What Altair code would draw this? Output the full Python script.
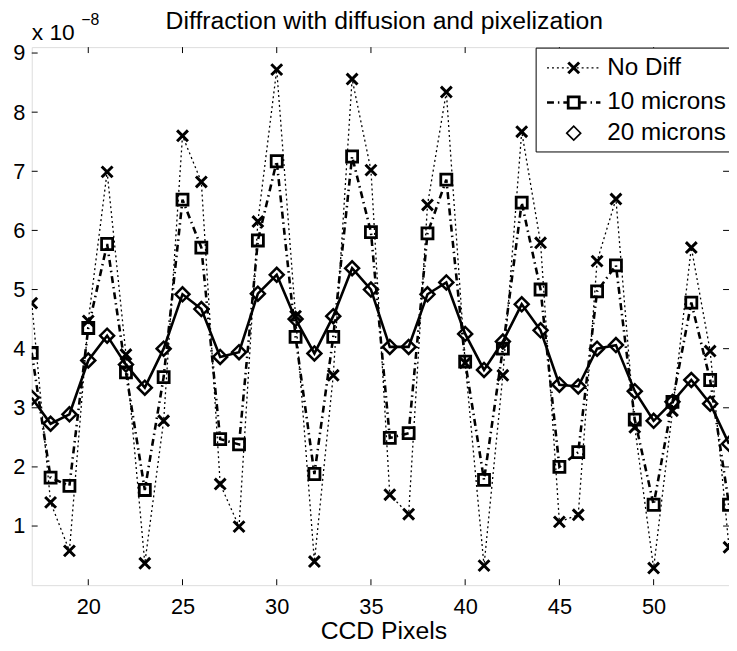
import altair as alt
import pandas as pd

# ---------------- data (values in units of 1e-8) ----------------
pixels = list(range(17, 55))
no_diff = [4.77, 1.40, 0.58, 4.47, 6.99, 3.90, 0.37, 2.78, 7.60, 6.82,
           1.71, 0.99, 6.15, 8.72, 4.55, 0.40, 3.55, 8.56, 7.02, 1.53,
           1.20, 6.43, 8.34, 3.76, 0.33, 3.55, 7.67, 5.79, 1.07, 1.19,
           5.48, 6.53, 2.67, 0.29, 2.95, 5.71, 3.96, 0.64]
ten_microns = [3.93, 1.82, 1.68, 4.35, 5.77, 3.60, 1.61, 3.52, 6.52, 5.71,
               2.47, 2.38, 5.83, 7.17, 4.20, 1.88, 4.20, 7.25, 5.97, 2.49,
               2.57, 5.95, 6.86, 3.78, 1.78, 4.00, 6.47, 5.00, 2.00, 2.25,
               4.97, 5.41, 2.80, 1.36, 3.10, 4.78, 3.47, 1.36]
twenty_microns = [3.17, 2.73, 2.89, 3.80, 4.22, 3.73, 3.34, 4.00, 4.92, 4.67,
                  3.86, 3.94, 4.93, 5.25, 4.50, 3.92, 4.55, 5.36, 5.00, 4.03,
                  4.03, 4.92, 5.12, 4.25, 3.64, 4.12, 4.75, 4.31, 3.39, 3.36,
                  4.00, 4.06, 3.28, 2.78, 3.10, 3.47, 3.07, 2.39]
series_labels = ["No Diff", "10 microns", "20 microns"]
x_ticks = [20, 25, 30, 35, 40, 45, 50]
y_ticks = [1, 2, 3, 4, 5, 6, 7, 8, 9]
title_text = "Diffraction with diffusion and pixelization"
x_title = "CCD Pixels"
multiplier = ["x 10", "\u22128"]

W, H = 705, 544
FONT = "Liberation Sans"
X_PATH = "M-1,-1L1,1M-1,1L1,-1"

df = pd.DataFrame({
    "pixel": pixels * 3,
    "value": no_diff + ten_microns + twenty_microns,
    "series": [series_labels[0]] * len(pixels)
              + [series_labels[1]] * len(pixels)
              + [series_labels[2]] * len(pixels),
})

xs = alt.Scale(domain=[17, 54], nice=False, zero=False)
ys = alt.Scale(domain=[0, 9.1], nice=False, zero=False)

X = alt.X("pixel:Q", scale=xs,
          axis=alt.Axis(values=x_ticks, title=x_title, ticks=False, tickSize=0,
                        domain=False, grid=False, labelFontSize=22, format="d",
                        labelPadding=12, labelFont=FONT, labelColor="black",
                        titleFont=FONT, titleFontSize=25, titleFontWeight="normal",
                        titleColor="black", titleBaseline="alphabetic",
                        titleY=54, titleX=W / 2 + 3))
Y = alt.Y("value:Q", scale=ys,
          axis=alt.Axis(values=y_ticks, title=None, ticks=False, tickSize=0,
                        domain=False, grid=False, labelFontSize=22, format="d",
                        labelPadding=7, labelFont=FONT, labelColor="black"))


def sub(name):
    return alt.Chart(df).transform_filter(alt.datum.series == name)


line_nd = sub(series_labels[0]).mark_line(
    color="black", strokeWidth=1.3, strokeDash=[2, 3], clip=True
).encode(x=X, y=Y)
pts_nd = sub(series_labels[0]).mark_point(
    shape=X_PATH, size=120, strokeWidth=3, color="black", filled=False,
    opacity=1, clip=True
).encode(x=X, y=Y)

line_10 = sub(series_labels[1]).mark_line(
    color="black", strokeWidth=2.6, strokeDash=[7, 4, 1.5, 4], clip=True
).encode(x=X, y=Y)
pts_10 = sub(series_labels[1]).mark_point(
    shape="square", size=125, strokeWidth=2.8, color="black", filled=False,
    opacity=1, clip=True
).encode(x=X, y=Y)

line_20 = sub(series_labels[2]).mark_line(
    color="black", strokeWidth=2.6, clip=True
).encode(x=X, y=Y)
pts_20 = sub(series_labels[2]).mark_point(
    shape="diamond", size=200, strokeWidth=2.5, color="black", filled=False,
    opacity=1, clip=True
).encode(x=X, y=Y)

# inward ticks (MATLAB style), all four sides
xt = pd.DataFrame({"t": x_ticks})
yt = pd.DataFrame({"t": y_ticks})
TL = 6
tick_layers = [
    alt.Chart(xt).mark_rule(color="black", strokeWidth=1).encode(
        x=alt.X("t:Q", scale=xs), y=alt.value(H), y2=alt.value(H - TL)),
    alt.Chart(xt).mark_rule(color="black", strokeWidth=1).encode(
        x=alt.X("t:Q", scale=xs), y=alt.value(0), y2=alt.value(TL)),
    alt.Chart(yt).mark_rule(color="black", strokeWidth=1).encode(
        y=alt.Y("t:Q", scale=ys), x=alt.value(0), x2=alt.value(TL)),
    alt.Chart(yt).mark_rule(color="black", strokeWidth=1).encode(
        y=alt.Y("t:Q", scale=ys), x=alt.value(W), x2=alt.value(W - TL)),
]

# legend box
one = pd.DataFrame({"k": [0]})
LX0, LX1, LY0, LY1 = 510, W + 2, 1, 106
legend_box = alt.Chart(one).mark_rect(
    fill="white", stroke="black", strokeWidth=1
).encode(x=alt.value(LX0), x2=alt.value(LX1), y=alt.value(LY0), y2=alt.value(LY1))

rows_y = [21, 56, 87]
SX0, SX1, SXM, TX = 521, 575, 548, 582
legend_layers = [legend_box]
# row 1: dotted line + x
legend_layers.append(alt.Chart(one).mark_rule(
    color="black", strokeWidth=1.3, strokeDash=[2, 3]
).encode(x=alt.value(SX0), x2=alt.value(SX1), y=alt.value(rows_y[0])))
legend_layers.append(alt.Chart(one).mark_point(
    shape=X_PATH, size=120, strokeWidth=3, color="black", filled=False, opacity=1
).encode(x=alt.value(SXM), y=alt.value(rows_y[0])))
# row 2: dash-dot + square
legend_layers.append(alt.Chart(one).mark_rule(
    color="black", strokeWidth=2.6, strokeDash=[7, 4, 1.5, 4]
).encode(x=alt.value(SX0), x2=alt.value(SX1), y=alt.value(rows_y[1])))
legend_layers.append(alt.Chart(one).mark_point(
    shape="square", size=125, strokeWidth=2.8, color="black", fill="white",
    filled=False, opacity=1
).encode(x=alt.value(SXM), y=alt.value(rows_y[1])))
# row 3: diamond only
legend_layers.append(alt.Chart(one).mark_point(
    shape="diamond", size=200, strokeWidth=1.6, color="black", filled=False, opacity=1
).encode(x=alt.value(SXM), y=alt.value(rows_y[2])))
for lab, ry in zip(series_labels, rows_y):
    legend_layers.append(alt.Chart(one).mark_text(
        text=lab, align="left", baseline="middle", font=FONT, fontSize=24.5,
        color="black"
    ).encode(x=alt.value(TX), y=alt.value(ry)))

# chart title and "x 10^-8" multiplier above the plot
top_texts = [
    alt.Chart(one).mark_text(
        text=title_text, align="center", baseline="alphabetic", font=FONT,
        fontSize=25, color="black"
    ).encode(x=alt.value(W / 2 + 4), y=alt.value(-18)),
    alt.Chart(one).mark_text(
        text=multiplier[0], align="left", baseline="alphabetic", font=FONT,
        fontSize=23, color="black"
    ).encode(x=alt.value(0), y=alt.value(-7)),
    alt.Chart(one).mark_text(
        text=multiplier[1], align="left", baseline="alphabetic", font=FONT,
        fontSize=16, color="black"
    ).encode(x=alt.value(50), y=alt.value(-22)),
]

chart = alt.layer(
    line_nd, line_10, line_20, pts_nd, pts_10, pts_20,
    *tick_layers, *legend_layers, *top_texts
).properties(
    width=W, height=H,
    autosize=alt.AutoSizeParams(type="none"),
    padding={"left": 24, "top": 36, "right": 0, "bottom": 62},
).configure_view(
    stroke="black", strokeWidth=1
).configure(background="white")

chart.save("out.html", embed_options={"renderer": "svg", "actions": False})
